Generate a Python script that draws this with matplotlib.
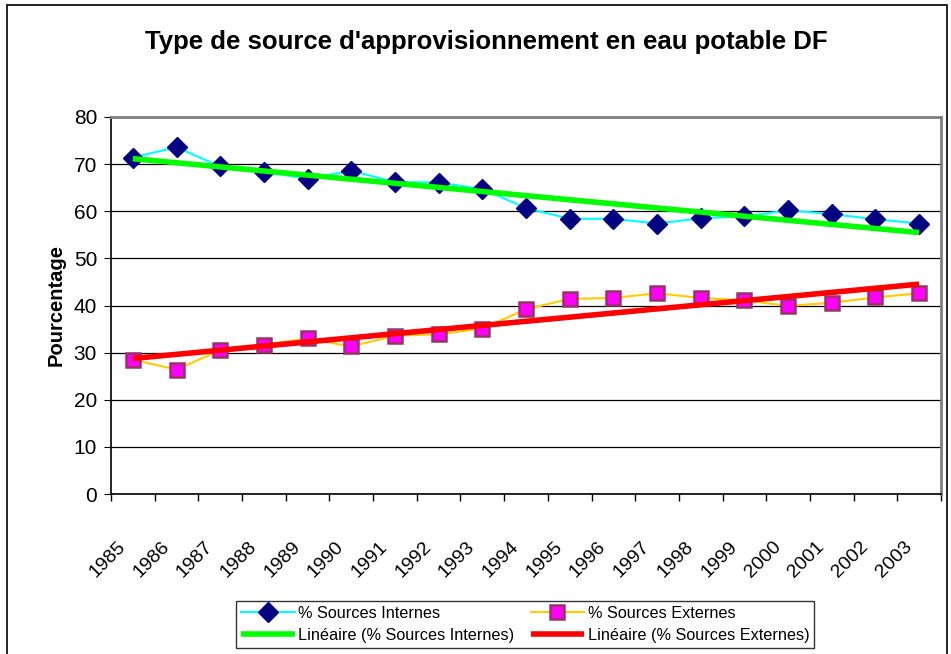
import numpy as np
import matplotlib
matplotlib.use('Agg')
import matplotlib.pyplot as plt
import matplotlib.transforms as mtransforms
from matplotlib.patches import Rectangle

plt.rcParams['font.family'] = ['Liberation Sans', 'DejaVu Sans']

# --- DATA ---
years = ['1985', '1986', '1987', '1988', '1989', '1990', '1991', '1992', '1993', '1994',
         '1995', '1996', '1997', '1998', '1999', '2000', '2001', '2002', '2003']
internes = [71.4, 73.6, 69.5, 68.4, 66.9, 68.6, 66.2, 66.1, 64.7, 60.7,
            58.4, 58.4, 57.4, 58.5, 58.9, 60.2, 59.4, 58.3, 57.4]
externes = [28.5, 26.4, 30.5, 31.7, 33.0, 31.3, 33.6, 33.9, 35.1, 39.2,
            41.4, 41.6, 42.6, 41.6, 41.1, 39.9, 40.6, 41.7, 42.6]
yticks = [0, 10, 20, 30, 40, 50, 60, 70, 80]

x = np.arange(len(years))

# linear trend lines (Excel "Linéaire")
p_int = np.polyfit(x, internes, 1)
p_ext = np.polyfit(x, externes, 1)

fig = plt.figure(figsize=(9.51, 6.54), dpi=100)
ax = fig.add_axes([111/951, 1 - 494/654, 830/951, 377/654])

h_int, = ax.plot(x, internes, color='#00FFFF', lw=1.5, marker='D', ms=10.5,
                 mfc='#000080', mec='#000080', label='% Sources Internes', zorder=3)
h_ext, = ax.plot(x, externes, color='#FFCC00', lw=1.5, marker='s', ms=10,
                 mfc='#FF00FF', mec='#993366', mew=1.8, label='% Sources Externes', zorder=3)
h_lint, = ax.plot(x, np.polyval(p_int, x), color='#00FF00', lw=4,
                  label='Linéaire (% Sources Internes)', zorder=4, solid_capstyle='butt')
h_lext, = ax.plot(x, np.polyval(p_ext, x), color='#FF0000', lw=4,
                  label='Linéaire (% Sources Externes)', zorder=4, solid_capstyle='butt')

ax.set_xlim(-0.5, len(years) - 0.5)
ax.set_ylim(0, 80)
ax.set_yticks(yticks)
ax.yaxis.grid(True, color='black', lw=0.9)
ax.set_axisbelow(True)

ax.set_xticks(x)
ax.set_xticklabels(years, rotation=45, ha='right', va='center', rotation_mode='anchor')
ax.set_xticks(np.arange(len(years) + 1) - 0.5, minor=True)
ax.tick_params(axis='x', which='major', length=0, pad=36, labelsize=14)
ax.tick_params(axis='x', which='minor', length=5, direction='out', width=1)
ax.tick_params(axis='y', length=5, direction='out', labelsize=15, pad=5)
offset = mtransforms.ScaledTranslation(-0.10, 0, fig.dpi_scale_trans)
for lbl in ax.get_xticklabels():
    lbl.set_transform(lbl.get_transform() + offset)

for s in ['top', 'right']:
    ax.spines[s].set_color('#808080')
    ax.spines[s].set_linewidth(2)
for s in ['left', 'bottom']:
    ax.spines[s].set_color('black')
    ax.spines[s].set_linewidth(1.2)

ax.set_ylabel('Pourcentage', fontsize=14.5, fontweight='bold', labelpad=6)
fig.text(486/951, 1 - 42/654, "Type de source d'approvisionnement en eau potable DF",
         ha='center', va='center', fontsize=18.5, fontweight='bold')

leg = fig.legend([h_int, h_lint, h_ext, h_lext],
                 [h.get_label() for h in [h_int, h_lint, h_ext, h_lext]],
                 loc='lower left', bbox_to_anchor=(236/951, 1 - 648/654, 578/951, 57/654),
                 mode='expand', ncol=2, fontsize=11.7, frameon=True, fancybox=False,
                 edgecolor='black', handlelength=3.3, borderaxespad=0, borderpad=0.3,
                 labelspacing=0.45, handletextpad=0.2, columnspacing=1.0)
leg.get_frame().set_linewidth(1)

# outer chart border
fig.patches.append(Rectangle((7/951, -0.05), 940/951, 1.05 - 5/654, transform=fig.transFigure,
                             fill=False, edgecolor='black', lw=1.2))

fig.savefig('out.png', dpi=100)
